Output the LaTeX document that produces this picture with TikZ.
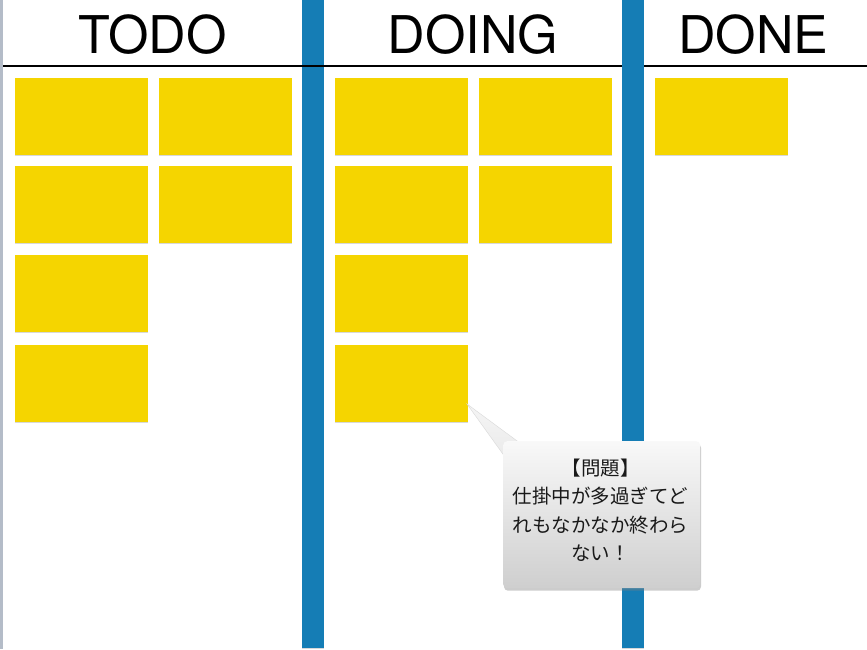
\documentclass[tikz,border=0pt]{standalone}
\usepackage{fontspec}
\usetikzlibrary{shadows,calc}
\newfontfamily\titlefont{TeX Gyre Heros}
\newfontfamily\jafont{Noto Sans CJK JP}
\definecolor{cardyellow}{HTML}{F5D500}
\definecolor{barblue}{HTML}{157DB5}
\definecolor{edgegray}{HTML}{B4BCC8}
\tikzset{
  card/.style={fill=cardyellow, minimum width=133pt, minimum height=77pt, inner sep=0pt, outer sep=0pt, anchor=north west,
    drop shadow={shadow xshift=0.4pt, shadow yshift=-1.4pt, opacity=0.3}},
  title/.style={font=\titlefont\fontsize{52}{52}\selectfont, anchor=base, inner sep=0pt},
  bar/.style={fill=barblue, drop shadow={shadow xshift=0pt, shadow yshift=-1pt, opacity=0.3}},
  callout/.style={rounded corners=4pt, top color=gray!5, bottom color=gray!38, minimum width=197pt, minimum height=147pt,
    anchor=north west, inner sep=0pt,
    drop shadow={shadow xshift=0.8pt, shadow yshift=-2.5pt, opacity=0.4}},
  calloutfont/.style={font=\jafont\fontsize{19.5}{28.5}\selectfont, text=black!90, align=center, inner sep=0pt},
  pointer/.style={top color=gray!8, bottom color=gray!16, draw=gray!30, line width=0.4pt}
}
\begin{document}
\begin{tikzpicture}[x=1pt, y=-1pt]
\useasboundingbox (0,0) rectangle (867,649);
\fill[white] (0,0) rectangle (867,649);
\fill[edgegray] (0,0) rectangle (3,649);
% first bar below the header line
\path[bar] (302,0) rectangle (324,648);
\draw[line width=2.4pt] (3,66) -- (867,66);
% second bar above the header line
\path[bar] (622,0) rectangle (644,648);
% titles
\node[title] (ttodo) at (152.5,53) {TODO};
\node[title] (tdoing) at (473,53) {DOING};
\node[title] (tdone) at (753.5,53) {DONE};
% TODO cards
\node[card] (t1) at (15,78) {};
\node[card] (t2) at (159,78) {};
\node[card] (t3) at (15,166) {};
\node[card] (t4) at (159,166) {};
\node[card] (t5) at (15,255) {};
\node[card] (t6) at (15,345) {};
% DOING cards
\node[card] (d1) at (335,78) {};
\node[card] (d2) at (479,78) {};
\node[card] (d3) at (335,166) {};
\node[card] (d4) at (479,166) {};
\node[card] (d5) at (335,255) {};
\node[card] (d6) at (335,345) {};
% DONE card
\node[card] (n1) at (655,78) {};
% callout
\coordinate (tip) at ($(d6.south east)+(-1,-18)$);
\coordinate (cnw) at (503,441);
\path[pointer] (tip) -- ($(cnw)+(15,0.6)$) -- ($(cnw)+(16,16)$) -- ($(cnw)+(0.6,14)$) -- cycle;
\node[callout] (call) at (cnw) {};
\node[calloutfont] (calltext) at ($(call.center)+(-1,-4.5)$)
  {【問題】\\仕掛中が多過ぎてど\\れもなかなか終わら\\ない！};
\end{tikzpicture}
\end{document}
